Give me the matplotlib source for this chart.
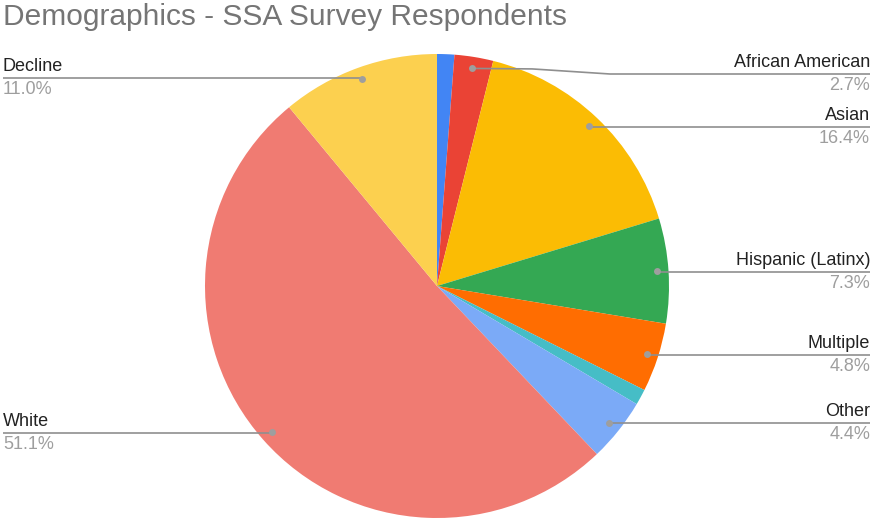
import numpy as np
import matplotlib.pyplot as plt

plt.rcParams['font.family'] = ['Liberation Sans', 'DejaVu Sans']

# Survey shares (percent), clockwise from the top
groups = ['American Indian', 'African American', 'Asian', 'Hispanic (Latinx)',
          'Multiple', 'Pacific Islander', 'Other', 'White', 'Decline']
shares = [1.2, 2.7, 16.4, 7.3, 4.8, 1.1, 4.4, 51.1, 11.0]
colors = ['#4285F4', '#EA4335', '#FBBC04', '#34A853', '#FF6D01',
          '#46BDC6', '#7BAAF7', '#F07B72', '#FCD04F']
labelled = ['African American', 'Asian', 'Hispanic (Latinx)', 'Multiple',
            'Other', 'White', 'Decline']

W, H = 873, 520
fig = plt.figure(figsize=(W / 100, H / 100), dpi=100)
ax = fig.add_axes([0, 0, 1, 1])

def py(y):
    # pixel row (from top) to data y
    return H - y

cx, cy, R = 437, 286, 232
wedges, _ = ax.pie(shares, colors=colors, startangle=90, counterclock=False,
                   center=(cx, py(cy)), radius=R, frame=True,
                   wedgeprops=dict(linewidth=0))
ax.set_xlim(0, W)
ax.set_ylim(0, H)
ax.set_aspect('equal')
ax.axis('off')

# where each leader line ends up (pixel row)
line_rows = {'African American': 74, 'Asian': 127, 'Hispanic (Latinx)': 272,
             'Multiple': 355, 'Other': 423, 'White': 433, 'Decline': 78}

line_col = '#8f8f8f'
for w, name, val in zip(wedges, groups, shares):
    if name not in labelled:
        continue
    ang = np.deg2rad((w.theta1 + w.theta2) / 2)
    dx = cx + 0.95 * R * np.cos(ang)
    dy = py(cy) + 0.95 * R * np.sin(ang)
    ly = py(line_rows[name])
    right = dx > cx
    tx = 870 if right else 3
    ha = 'right' if right else 'left'
    if abs(dy - ly) > 3:
        xs = [dx, dx + 60, 610, tx]
        ys = [dy, dy - 0.5, ly, ly]
    else:
        xs = [dx, tx]
        ys = [ly, ly]
    ax.plot(xs, ys, color=line_col, lw=1.2, solid_capstyle='butt')
    ax.plot(dx, dy, 'o', color='#9e9e9e', ms=5, mec='none')
    ax.text(tx, ly + 3, name, ha=ha, va='bottom', fontsize=13, color='#222222')
    ax.text(tx, ly - 3, f'{val:.1f}%', ha=ha, va='top', fontsize=13, color='#9e9e9e')

ax.text(3, py(3), 'Demographics - SSA Survey Respondents', ha='left', va='top',
        fontsize=21.5, color='#757575')

fig.savefig('out.png', dpi=100)
